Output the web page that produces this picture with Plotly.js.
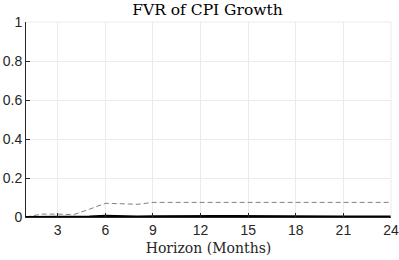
<!DOCTYPE html>
<html>
<head>
<meta charset="utf-8">
<script src="https://cdn.plot.ly/plotly-3.0.1.min.js"></script>
<style>html,body{margin:0;padding:0;background:#fff;}#chart{width:399px;height:260px;}</style>
</head>
<body>
<div id="chart"></div>
<script>
const horizon = [1,2,3,4,5,6,7,8,9,10,11,12,13,14,15,16,17,18,19,20,21,22,23,24];
const fvrUpper = [0,0.015,0.015,0.012,0.04,0.07,0.068,0.065,0.075,0.075,0.077,0.078,0.077,0.077,0.076,0.076,0.076,0.076,0.076,0.075,0.075,0.075,0.075,0.075];
const fvrMedian = [0,0.001,0.001,0.001,0.003,0.007,0.004,0.003,0.004,0.005,0.006,0.006,0.005,0.005,0.004,0.004,0.003,0.003,0.002,0.002,0.002,0.002,0.002,0.002];
const fvrLower = [0,0,0,0,0,0,0,0,0,0,0,0,0,0,0,0,0,0,0,0,0,0,0,0];
const xTicks = [3,6,9,12,15,18,21,24];
const yTicks = [0,0.2,0.4,0.6,0.8,1];
const yTickLabels = ["0","0.2","0.4","0.6","0.8","1"];

const traces = [
  {x: horizon, y: fvrUpper, mode: 'lines', line: {color: '#808080', width: 1, dash: '5px,3px'}, hoverinfo: 'skip'},
  {x: horizon, y: fvrLower, mode: 'lines', line: {color: '#000000', width: 2}, hoverinfo: 'skip'},
  {x: horizon, y: fvrMedian, mode: 'lines', line: {color: '#000000', width: 2}, hoverinfo: 'skip'}
];
const layout = {
  width: 399, height: 260,
  margin: {l: 26, r: 8, t: 22, b: 43},
  paper_bgcolor: '#fff', plot_bgcolor: '#fff',
  showlegend: false,
  title: {text: 'FVR of CPI Growth', x: 0.52, xanchor: 'center', y: 0.963, yanchor: 'middle',
          font: {family: 'DejaVu Serif', size: 15.5, color: '#000'}},
  xaxis: {range: [1,24], tickvals: xTicks, ticktext: xTicks.map(String),
          showgrid: true, gridcolor: '#ebebeb', gridwidth: 1, zeroline: false,
          showline: true, linecolor: '#262626', linewidth: 1, mirror: false,
          ticks: 'inside', ticklen: 4, tickcolor: '#262626',
          tickfont: {family: 'Liberation Sans', size: 14, color: '#262626'},
          title: {text: 'Horizon (Months)', standoff: 6, font: {family: 'DejaVu Serif', size: 14, color: '#262626'}}},
  yaxis: {range: [0,1], tickvals: yTicks, ticktext: yTickLabels,
          showgrid: true, gridcolor: '#ebebeb', gridwidth: 1, zeroline: false,
          showline: true, linecolor: '#262626', linewidth: 1, mirror: false,
          ticks: 'inside', ticklen: 4, tickcolor: '#262626',
          tickfont: {family: 'Liberation Sans', size: 14, color: '#262626'}},
  shapes: [
    {type: 'line', xref: 'paper', yref: 'paper', x0: 0, x1: 1, y0: 1, y1: 1, line: {color: '#ebebeb', width: 1}},
    {type: 'line', xref: 'paper', yref: 'paper', x0: 1, x1: 1, y0: 0, y1: 1, line: {color: '#ebebeb', width: 1}}
  ]
};
Plotly.newPlot('chart', traces, layout, {staticPlot: true, displayModeBar: false});
</script>
</body>
</html>
